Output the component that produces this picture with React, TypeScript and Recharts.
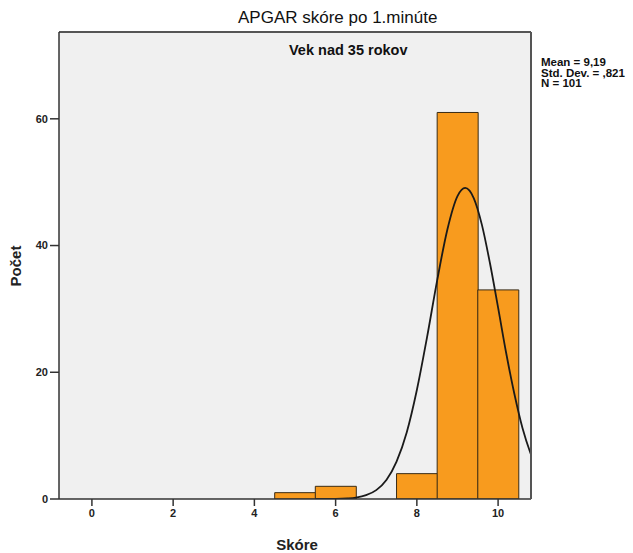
import React from 'react';
import { ComposedChart, Bar, Line, XAxis, YAxis, CartesianGrid } from 'recharts';

// histogram bins (score) and counts
const binScores = [0, 1, 2, 3, 4, 5, 6, 7, 8, 9, 10];
const binCounts = [0, 0, 0, 0, 0, 1, 2, 0, 4, 61, 33];

// normal curve
const curveX = [5.5, 6.0, 6.3, 6.5, 6.75, 7.0, 7.25, 7.5, 7.75, 8.0, 8.25, 8.5, 8.75, 9.0, 9.19, 9.4, 9.6, 9.8, 10.0, 10.2, 10.4, 10.6, 10.8, 11.0];
const curveY = [0, 0.02, 0.1, 0.23, 0.6, 1.4, 3.0, 5.9, 10.5, 17.2, 25.5, 34.5, 42.5, 47.8, 49.1, 47.5, 43.3, 37.2, 30.2, 23.0, 16.6, 11.2, 7.2, 4.3];

const yTicks = [0, 20, 40, 60];
const statLines = ['Mean = 9,19', 'Std. Dev. = ,821', 'N = 101'];

const barData = binScores.map((s, i) => ({ score: s, count: binCounts[i] }));
const curveData = curveX.map((x, i) => ({ score: x, density: curveY[i] }));

const font = 'Arial, "Liberation Sans", sans-serif';
const tickStyle = { fontSize: 11, fontWeight: 700, fill: '#222', fontFamily: font };

export default function App() {
  return (
    <div style={{ position: 'absolute', left: 0, top: 0, width: 633, height: 553, background: '#fff' }}>
      <ComposedChart
        width={633}
        height={553}
        data={barData}
        margin={{ top: 31, right: 101, left: 0, bottom: 0 }}
        barCategoryGap={0}
        barGap={0}
      >
        <CartesianGrid fill="#f0f0f0" horizontal={false} vertical={false} />
        <XAxis
          dataKey="score"
          type="category"
          padding={{ left: 12.6, right: 12.6 }}
          interval={1}
          height={54}
          tickSize={7}
          tickMargin={3}
          tick={tickStyle}
          axisLine={{ stroke: '#333', strokeWidth: 1.5 }}
          tickLine={{ stroke: '#333', strokeWidth: 1.5 }}
        />
        <XAxis
          xAxisId="curve"
          dataKey="score"
          orientation="top"
          type="number"
          domain={[-0.81, 10.81]}
          allowDataOverflow
          height={1}
          tick={false}
          tickLine={false}
          axisLine={{ stroke: '#555', strokeWidth: 2 }}
        />
        <YAxis
          type="number"
          domain={[0, 73.7]}
          allowDataOverflow
          ticks={yTicks}
          width={59}
          tickSize={9}
          tickMargin={2}
          tick={tickStyle}
          axisLine={{ stroke: '#333', strokeWidth: 1.5 }}
          tickLine={{ stroke: '#333', strokeWidth: 1.5 }}
        />
        <YAxis
          yAxisId="curve"
          orientation="right"
          type="number"
          domain={[0, 73.7]}
          allowDataOverflow
          width={1}
          tick={false}
          tickLine={false}
          axisLine={{ stroke: '#555', strokeWidth: 2 }}
        />
        <Bar
          dataKey="count"
          fill="#F89B1E"
          stroke="#3a2b14"
          strokeWidth={1}
          isAnimationActive={false}
        />
        <Line
          data={curveData}
          xAxisId="curve"
          yAxisId="curve"
          dataKey="density"
          type="monotone"
          dot={false}
          activeDot={false}
          stroke="#1a1a1a"
          strokeWidth={1.8}
          isAnimationActive={false}
        />
        <text x={238} y={23} fontSize={17} fontFamily={font} fill="#111">
          APGAR skóre po 1.minúte
        </text>
        <text x={289} y={55} fontSize={14.5} fontWeight={700} fontFamily={font} fill="#111">
          Vek nad 35 rokov
        </text>
        {statLines.map((t, i) => (
          <text key={t} x={541} y={66 + i * 10.5} fontSize={11.5} fontWeight={700} fontFamily={font} fill="#111">
            {t}
          </text>
        ))}
        <text x={297} y={550} textAnchor="middle" fontSize={15} fontWeight={700} fontFamily={font} fill="#222">
          Skóre
        </text>
        <text
          x={21}
          y={266}
          textAnchor="middle"
          transform="rotate(-90 21 266)"
          fontSize={15}
          fontWeight={700}
          fontFamily={font}
          fill="#222"
        >
          Počet
        </text>
      </ComposedChart>
    </div>
  );
}
